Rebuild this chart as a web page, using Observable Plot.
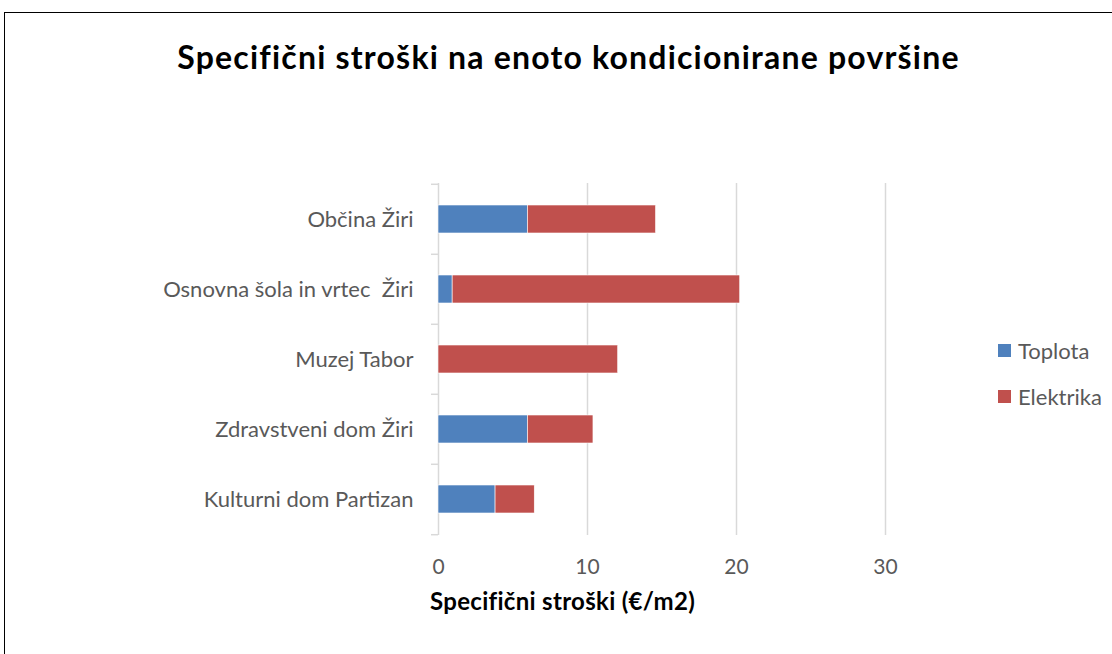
<!DOCTYPE html>
<html>
<head>
<meta charset="utf-8">
<script src="https://cdn.jsdelivr.net/npm/d3@7"></script>
<script src="https://cdn.jsdelivr.net/npm/@observablehq/plot@0.6"></script>
<style>
  html, body { margin: 0; padding: 0; background: #fff; }
  body { width: 1112px; height: 654px; overflow: hidden; font-family: Lato, "Open Sans", sans-serif; }
  #wrap { position: relative; width: 1112px; height: 654px; }
  #frame { position: absolute; left: 4px; top: 12px; width: 1200px; height: 800px; border: 1.5px solid #000; box-sizing: border-box; }
  #title { position: absolute; left: 0; width: 1137px; top: 37px; text-align: center; font-weight: bold; font-size: 32px; letter-spacing: 1.2px; line-height: 40px; color: #000; }
  #xtitle { position: absolute; left: 430px; top: 586px; font-weight: bold; font-size: 24px; letter-spacing: 0.3px; line-height: 29px; color: #000; }
  #legend { position: absolute; left: 998px; top: 337px; font-size: 22px; color: #595959; }
  .item { display: flex; align-items: center; height: 26px; margin-bottom: 20px; }
  .sw { width: 13px; height: 13px; margin-right: 7px; }
  #chart { position: absolute; left: 0; top: 0; }
</style>
</head>
<body>
<div id="wrap">
  <div id="frame"></div>
  <div id="title">Specifični stroški na enoto kondicionirane površine</div>
  <div id="chart"></div>
  <div id="xtitle">Specifični stroški (€/m2)</div>
  <div id="legend"></div>
</div>
<script>
const categories = ["Občina Žiri", "Osnovna šola in vrtec  Žiri", "Muzej Tabor", "Zdravstveni dom Žiri", "Kulturni dom Partizan"];
const seriesNames = ["Toplota", "Elektrika"];
const toplota = [6.0, 0.95, 0, 6.0, 3.83];
const elektrika = [8.6, 19.3, 12.06, 4.4, 2.63];
const xTicks = [0, 10, 20, 30];
const colors = ["#4f81bd", "#c0504d"];

const data = [];
categories.forEach((c, i) => data.push({name: c, series: "Toplota", value: toplota[i]}));
categories.forEach((c, i) => data.push({name: c, series: "Elektrika", value: elektrika[i]}));

const W = 1112, H = 654;
const chart = Plot.plot({
  width: W,
  height: H,
  marginLeft: 438,
  marginRight: 227,
  marginTop: 183,
  marginBottom: 119,
  style: {fontFamily: "Lato, 'Open Sans', sans-serif", fontSize: "21px", color: "#595959", background: "transparent"},
  x: {domain: [0, 30], ticks: xTicks},
  y: {domain: categories, paddingInner: 0.6, paddingOuter: 0.3},
  color: {domain: seriesNames, range: colors},
  marks: [
    Plot.ruleX(xTicks, {x: d => d, stroke: "#d9d9d9", strokeWidth: 1.5}),
    Plot.axisX({ticks: xTicks, tickSize: 0, tickPadding: 24, label: null, fill: "#595959", fontSize: 21}),
    Plot.axisY({tickSize: 0, tickPadding: 25, label: null, fill: "#595959", fontSize: 22}),
    Plot.axisY({tickSize: 7, text: null, dy: -35.2, stroke: "#d9d9d9", strokeWidth: 1.5, label: null}),
    Plot.axisY({ticks: [categories[categories.length - 1]], tickSize: 7, text: null, dy: 35.2, stroke: "#d9d9d9", strokeWidth: 1.5, label: null}),
    Plot.barX(data, Plot.stackX({x: "value", y: "name", fill: "series", stroke: "#fff", strokeWidth: 0.6})),
  ]
});
document.getElementById("chart").appendChild(chart);

const legend = document.getElementById("legend");
seriesNames.forEach((s, i) => {
  const it = document.createElement("div");
  it.className = "item";
  const sw = document.createElement("div");
  sw.className = "sw";
  sw.style.background = colors[i];
  it.appendChild(sw);
  const t = document.createElement("span");
  t.textContent = s;
  it.appendChild(t);
  legend.appendChild(it);
});
</script>
</body>
</html>
